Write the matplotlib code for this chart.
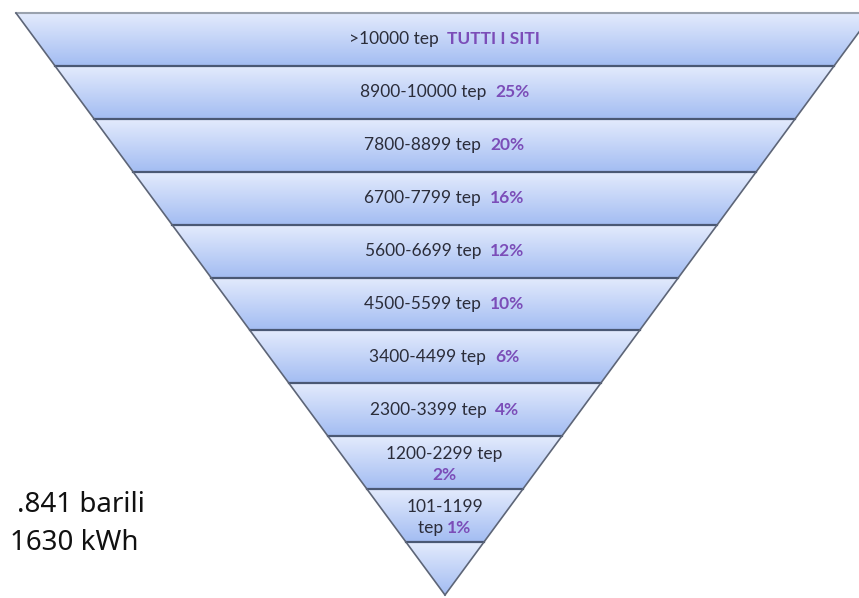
import numpy as np
import matplotlib.pyplot as plt
from matplotlib.patches import Polygon

# dati della piramide rovesciata
fasce = ['>10000 tep', '8900-10000 tep', '7800-8899 tep', '6700-7799 tep',
         '5600-6699 tep', '4500-5599 tep', '3400-4499 tep', '2300-3399 tep',
         '1200-2299 tep', '101-1199\ntep', '']
quote = ['TUTTI I SITI', '25%', '20%', '16%', '12%', '10%', '6%', '4%',
         '2%', '1%', '']
note = ['.841 barili', '1630 kWh']

W, H = 859, 598
fig = plt.figure(figsize=(W / 100, H / 100), dpi=100)
ax = fig.add_axes([0, 0, 1, 1])
ax.set_xlim(0, W)
ax.set_ylim(H, 0)
ax.axis('off')

# geometria del triangolo
top_y, apex_y = 13, 595
x_left, x_right, x_apex = 16, 873, 445
n = len(fasce)
h = (apex_y - top_y) / n


def bordo(y):
    t = (y - top_y) / (apex_y - top_y)
    return x_left + (x_apex - x_left) * t, x_right + (x_apex - x_right) * t


grad = np.linspace(0, 1, 64)
c_top = np.array([0.89, 0.92, 0.99])
c_bot = np.array([0.64, 0.74, 0.95])
img = (c_top + (c_bot - c_top) * grad[:, None]).reshape(64, 1, 3)

for i in range(n):
    y0 = top_y + i * h
    y1 = y0 + h
    l0, r0 = bordo(y0)
    l1, r1 = bordo(y1)
    poly = Polygon([(l0, y0), (r0, y0), (r1, y1), (l1, y1)], closed=True,
                   facecolor='none', edgecolor='none')
    ax.add_patch(poly)
    im = ax.imshow(img, extent=[l0, r0, y1, y0], aspect='auto', zorder=1)
    im.set_clip_path(poly)
    if i > 0:
        ax.plot([l0, r0], [y0, y0], color='#4a5874', lw=1.6, zorder=3)

# contorno
ax.plot([x_left, W], [top_y, top_y], color='#9aa2ae', lw=1.5, zorder=3)
ax.plot([x_left, x_apex], [top_y, apex_y], color='#5d6577', lw=1.2, zorder=3)
ax.plot([x_right, x_apex], [top_y, apex_y], color='#5d6577', lw=1.2, zorder=3)

# testi
fig.canvas.draw()
rend = fig.canvas.get_renderer()
cx = 444.5
font = dict(family=['Lato', 'DejaVu Sans'], fontsize=12.5)
scuro, viola = '#2b2d3a', '#7b4db8'
for i in range(n):
    if not fasce[i]:
        continue
    yc = top_y + (i + 0.5) * h
    if i == 8:
        ax.text(cx, yc - 9, fasce[i], ha='center', va='center',
                color=scuro, zorder=4, **font)
        ax.text(cx, yc + 12, quote[i], ha='center', va='center',
                color=viola, fontweight='bold', zorder=4, **font)
        continue
    if i == 9:
        riga1, riga2 = fasce[i].split('\n')
        ax.text(cx, yc - 9, riga1, ha='center', va='center',
                color=scuro, zorder=4, **font)
        yc = yc + 12
        prima = riga2 + ' '
    else:
        prima = fasce[i] + '  '
    t1 = ax.text(0, yc, prima, ha='left', va='center', color=scuro,
                 zorder=4, **font)
    t2 = ax.text(0, yc, quote[i], ha='left', va='center', color=viola,
                 fontweight='bold', zorder=4, **font)
    w1 = t1.get_window_extent(rend).width
    w2 = t2.get_window_extent(rend).width
    x0 = cx - (w1 + w2) / 2
    t1.set_x(x0)
    t2.set_x(x0 + w1)

# note a sinistra
ax.text(145, 505, note[0], ha='right', va='center', fontsize=20,
        family=['Noto Sans', 'DejaVu Sans'], color='#111111')
ax.text(138, 543, note[1], ha='right', va='center', fontsize=20,
        family=['Noto Sans', 'DejaVu Sans'], color='#111111')

fig.savefig('out.png', dpi=100)
